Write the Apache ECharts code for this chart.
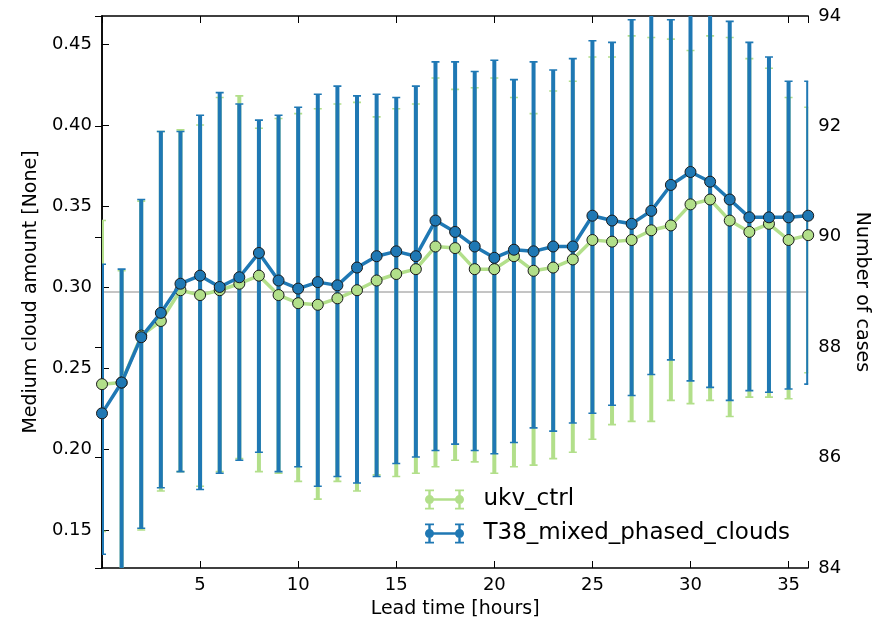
<!DOCTYPE html>
<html><head><meta charset="utf-8">
<script src="https://cdn.jsdelivr.net/npm/echarts@6/dist/echarts.min.js"></script>
<style>html,body{margin:0;padding:0;background:#fff}#c{width:879px;height:625px}</style>
</head><body><div id="c"></div>
<script>
const leadTime = [0,1,2,3,4,5,6,7,8,9,10,11,12,13,14,15,16,17,18,19,20,21,22,23,24,25,26,27,28,29,30,31,32,33,34,35,36];
const ukvMean = [0.240,0.241,0.270,0.279,0.298,0.295,0.298,0.302,0.307,0.295,0.290,0.289,0.293,0.298,0.304,0.308,0.311,0.325,0.324,0.311,0.311,0.319,0.310,0.312,0.317,0.329,0.328,0.329,0.335,0.338,0.351,0.354,0.341,0.334,0.339,0.329,0.332];
const ukvLow = [0.149,0.115,0.150,0.174,0.186,0.177,0.186,0.194,0.186,0.185,0.180,0.169,0.180,0.174,0.184,0.183,0.185,0.189,0.193,0.192,0.185,0.189,0.190,0.194,0.198,0.206,0.215,0.217,0.217,0.230,0.228,0.230,0.220,0.232,0.232,0.231,0.247];
const ukvHigh = [0.341,0.310,0.353,0.396,0.397,0.400,0.417,0.418,0.398,0.404,0.407,0.410,0.413,0.414,0.405,0.410,0.413,0.429,0.422,0.423,0.429,0.417,0.407,0.421,0.427,0.442,0.442,0.455,0.454,0.453,0.446,0.455,0.454,0.441,0.435,0.417,0.411];
const t38Mean = [0.222,0.241,0.269,0.284,0.302,0.307,0.300,0.306,0.321,0.304,0.299,0.303,0.301,0.312,0.319,0.322,0.319,0.341,0.334,0.325,0.318,0.323,0.322,0.325,0.325,0.344,0.341,0.339,0.347,0.363,0.371,0.365,0.354,0.343,0.343,0.343,0.344];
const t38Low = [0.135,0.110,0.151,0.176,0.186,0.175,0.185,0.193,0.198,0.186,0.189,0.177,0.183,0.179,0.183,0.191,0.195,0.199,0.203,0.199,0.197,0.204,0.213,0.211,0.216,0.222,0.227,0.233,0.246,0.255,0.242,0.238,0.230,0.236,0.235,0.237,0.240];
const t38High = [0.314,0.311,0.354,0.396,0.396,0.406,0.420,0.413,0.403,0.406,0.411,0.419,0.424,0.418,0.419,0.417,0.424,0.439,0.439,0.433,0.440,0.428,0.439,0.434,0.441,0.452,0.451,0.465,0.475,0.465,0.480,0.472,0.464,0.451,0.442,0.427,0.427];
const numCases = [89,89,89,89,89,89,89,89,89,89,89,89,89,89,89,89,89,89,89,89,89,89,89,89,89,89,89,89,89,89,89,89,89,89,89,89,89];
const xTicks = [5,10,15,20,25,30,35];

const GREEN = '#b2df8a', BLUE = '#1f78b4', EDGE = '#1a1a1a';
const FONT = 'DejaVu Sans';
const ICON = 'path://M5 8.8H35V11.2H5Z M3.8 0H6.2V20H3.8Z M0.5 0H9.5V1.8H0.5Z M0.5 18.2H9.5V20H0.5Z M33.8 0H36.2V20H33.8Z M30.5 0H39.5V1.8H30.5Z M30.5 18.2H39.5V20H30.5Z M0.5 10A4.5 4.5 0 1 1 9.5 10A4.5 4.5 0 1 1 0.5 10Z M30.5 10A4.5 4.5 0 1 1 39.5 10A4.5 4.5 0 1 1 30.5 10Z';

function errRender(color) {
  return function (params, api) {
    const x = api.value(0), lo = api.value(1), hi = api.value(2);
    const pLo = api.coord([x, lo]), pHi = api.coord([x, hi]);
    const cs = params.coordSys;
    const cap = 8;
    return {
      type: 'group',
      clipPath: {type: 'rect', shape: {x: cs.x, y: cs.y, width: cs.width, height: cs.height}},
      children: [
        {type: 'line', shape: {x1: pLo[0], y1: pLo[1], x2: pHi[0], y2: pHi[1]}, style: {stroke: color, lineWidth: 4}},
        {type: 'line', shape: {x1: pLo[0] - cap / 2, y1: pLo[1], x2: pLo[0] + cap / 2, y2: pLo[1]}, style: {stroke: color, lineWidth: 1.6}},
        {type: 'line', shape: {x1: pHi[0] - cap / 2, y1: pHi[1], x2: pHi[0] + cap / 2, y2: pHi[1]}, style: {stroke: color, lineWidth: 1.6}}
      ]
    };
  };
}

const chart = echarts.init(document.getElementById('c'), null, {renderer: 'canvas'});
const xBase = {
  type: 'value', min: 0, max: 36, interval: 5,
  axisLine: {show: true, onZero: false, lineStyle: {color: '#000', width: 1.5}},
  axisTick: {show: true, inside: true, length: 7, lineStyle: {color: '#000', width: 1}},
  splitLine: {show: false}
};
chart.setOption({
  animation: false,
  backgroundColor: '#fff',
  textStyle: {fontFamily: FONT},
  grid: {left: 102, right: 67, top: 16, bottom: 57, containLabel: false},
  legend: {
    orient: 'vertical', left: 420, top: 483, itemWidth: 40, itemHeight: 20, itemGap: 11,
    textStyle: {fontSize: 23, color: '#000', fontFamily: FONT, padding: [0, 0, 0, 14]},
    data: [
      {name: 'ukv_ctrl', icon: ICON, itemStyle: {color: GREEN}},
      {name: 'T38_mixed_phased_clouds', icon: ICON, itemStyle: {color: BLUE}}
    ]
  },
  xAxis: [
    Object.assign({}, xBase, {
      position: 'bottom',
      name: 'Lead time [hours]', nameLocation: 'middle', nameGap: 32,
      nameTextStyle: {fontSize: 19, color: '#000', fontFamily: FONT},
      axisLabel: {fontSize: 18, color: '#000', margin: 8, fontFamily: FONT,
        formatter: v => (xTicks.indexOf(v) >= 0 ? String(v) : '')}
    }),
    Object.assign({}, xBase, {position: 'top', axisLabel: {show: false}})
  ],
  yAxis: [
    {
      type: 'value', position: 'left', min: 0.1265, max: 0.4673, splitNumber: 7,
      name: 'Medium cloud amount [None]', nameLocation: 'middle', nameGap: 58, nameRotate: 90,
      nameTextStyle: {fontSize: 19, color: '#000', fontFamily: FONT},
      axisLine: {show: true, lineStyle: {color: '#000', width: 1.5}},
      axisTick: {show: true, inside: true, length: 7, lineStyle: {color: '#000', width: 1}},
      axisLabel: {fontSize: 18, color: '#000', margin: 10, fontFamily: FONT, showMinLabel: false, showMaxLabel: false,
        formatter: v => v.toFixed(2)},
      splitLine: {show: false}
    },
    {
      type: 'value', position: 'right', min: 84, max: 94, interval: 2,
      name: 'Number of cases', nameLocation: 'middle', nameGap: 40, nameRotate: -90,
      nameTextStyle: {fontSize: 19, color: '#000', fontFamily: FONT},
      axisLine: {show: true, lineStyle: {color: '#000', width: 1.5}},
      axisTick: {show: true, inside: true, length: 7, lineStyle: {color: '#000', width: 1}},
      axisLabel: {fontSize: 18, color: '#000', margin: 10, fontFamily: FONT},
      splitLine: {show: false}
    }
  ],
  series: [
    {
      name: 'cases', type: 'line', yAxisIndex: 1, xAxisIndex: 0, silent: true, z: 1,
      data: leadTime.map((t, i) => [t, numCases[i]]),
      symbol: 'none', lineStyle: {color: '#8a8a8a', width: 1}, itemStyle: {color: '#8a8a8a'}
    },
    {
      name: 'ukv_ctrl', type: 'custom', z: 2,
      renderItem: errRender(GREEN), itemStyle: {color: GREEN},
      encode: {x: 0, y: [1, 2]},
      data: leadTime.map((t, i) => [t, ukvLow[i], ukvHigh[i]])
    },
    {
      name: 'T38_mixed_phased_clouds', type: 'custom', z: 3,
      renderItem: errRender(BLUE), itemStyle: {color: BLUE},
      encode: {x: 0, y: [1, 2]},
      data: leadTime.map((t, i) => [t, t38Low[i], t38High[i]])
    },
    {
      name: 'ukv_ctrl', type: 'line', z: 4,
      data: leadTime.map((t, i) => [t, ukvMean[i]]),
      symbol: 'circle', symbolSize: 11, showAllSymbol: true,
      lineStyle: {color: GREEN, width: 3.5},
      itemStyle: {color: GREEN, borderColor: EDGE, borderWidth: 1}
    },
    {
      name: 'T38_mixed_phased_clouds', type: 'line', z: 5,
      data: leadTime.map((t, i) => [t, t38Mean[i]]),
      symbol: 'circle', symbolSize: 11, showAllSymbol: true,
      lineStyle: {color: BLUE, width: 3.5},
      itemStyle: {color: BLUE, borderColor: EDGE, borderWidth: 1}
    }
  ]
});
</script>
</body></html>
